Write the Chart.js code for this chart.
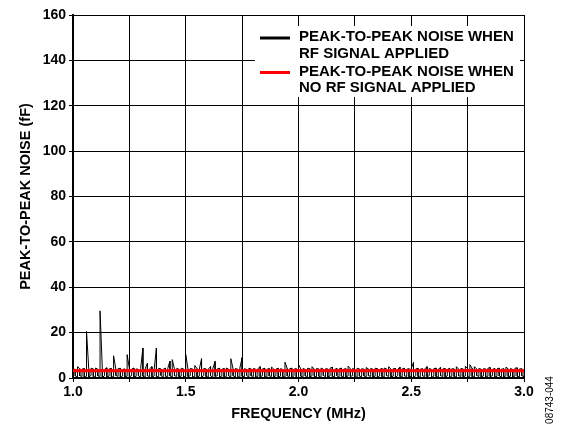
<!DOCTYPE html>
<html>
<head>
    <title>Peak-to-Peak Noise vs Frequency</title>
    <style>
        body {
            margin: 0;
            padding: 0;
            background-color: #fff;
        }

        #chart-container {
            width: 576px;
            height: 428px;
        }
    </style>
</head>
<body>
    <div id="chart-container">
        <canvas id="noise-chart"></canvas>
    </div>

    <script src="https://cdn.jsdelivr.net/npm/chart.js"></script>
    <script>
        // sweep frequencies (MHz) for the RF-applied trace
        const freqMHz = [
            1.00, 1.01, 1.02, 1.03, 1.04, 1.05, 1.06, 1.07, 1.08, 1.09,
            1.10, 1.11, 1.12, 1.13, 1.14, 1.15, 1.16, 1.17, 1.18, 1.19,
            1.20, 1.21, 1.22, 1.23, 1.24, 1.25, 1.26, 1.27, 1.28, 1.29,
            1.30, 1.31, 1.32, 1.33, 1.34, 1.35, 1.36, 1.37, 1.38, 1.39,
            1.40, 1.41, 1.42, 1.43, 1.44, 1.45, 1.46, 1.47, 1.48, 1.49,
            1.50, 1.51, 1.52, 1.53, 1.54, 1.55, 1.56, 1.57, 1.58, 1.59,
            1.60, 1.61, 1.62, 1.63, 1.64, 1.65, 1.66, 1.67, 1.68, 1.69,
            1.70, 1.71, 1.72, 1.73, 1.74, 1.75, 1.76, 1.77, 1.78, 1.79,
            1.80, 1.81, 1.82, 1.83, 1.84, 1.85, 1.86, 1.87, 1.88, 1.89,
            1.90, 1.91, 1.92, 1.93, 1.94, 1.95, 1.96, 1.97, 1.98, 1.99,
            2.00, 2.01, 2.02, 2.03, 2.04, 2.05, 2.06, 2.07, 2.08, 2.09,
            2.10, 2.11, 2.12, 2.13, 2.14, 2.15, 2.16, 2.17, 2.18, 2.19,
            2.20, 2.21, 2.22, 2.23, 2.24, 2.25, 2.26, 2.27, 2.28, 2.29,
            2.30, 2.31, 2.32, 2.33, 2.34, 2.35, 2.36, 2.37, 2.38, 2.39,
            2.40, 2.41, 2.42, 2.43, 2.44, 2.45, 2.46, 2.47, 2.48, 2.49,
            2.50, 2.51, 2.52, 2.53, 2.54, 2.55, 2.56, 2.57, 2.58, 2.59,
            2.60, 2.61, 2.62, 2.63, 2.64, 2.65, 2.66, 2.67, 2.68, 2.69,
            2.70, 2.71, 2.72, 2.73, 2.74, 2.75, 2.76, 2.77, 2.78, 2.79,
            2.80, 2.81, 2.82, 2.83, 2.84, 2.85, 2.86, 2.87, 2.88, 2.89,
            2.90, 2.91, 2.92, 2.93, 2.94, 2.95, 2.96, 2.97, 2.98, 2.99,
            3.00
        ];

        // RF applied: highest reading (fF) in each frequency bin
        const rfMax = [
            4.0, 3.8, 5.0, 4.1, 3.9, 4.2, 20.5, 3.8, 4.3, 4.0,
            4.4, 3.9, 29.6, 4.1, 3.8, 4.5, 4.0, 4.2, 9.8, 3.9,
            4.1, 4.3, 3.8, 4.0, 10.3, 4.2, 3.9, 4.4, 4.0, 3.8,
            4.2, 13.2, 4.0, 6.5, 4.1, 5.0, 3.9, 13.2, 4.3, 4.0,
            3.8, 4.4, 4.1, 7.5, 8.1, 4.0, 4.2, 3.9, 4.3, 4.0,
            10.3, 3.9, 4.2, 4.0, 5.5, 4.1, 3.8, 8.5, 4.2, 4.0,
            3.9, 5.0, 4.1, 7.3, 4.0, 4.3, 3.8, 4.2, 4.4, 3.9,
            8.5, 4.0, 4.2, 3.9, 4.4, 9.0, 4.1, 3.8, 4.3, 4.0,
            4.2, 3.9, 4.1, 5.0, 4.0, 4.3, 3.8, 4.2, 4.8, 4.0,
            3.9, 4.3, 4.1, 3.8, 7.0, 4.2, 4.0, 4.4, 3.9, 4.1,
            6.0, 4.0, 4.2, 3.8, 4.3, 4.1, 5.0, 3.9, 4.2, 4.0,
            4.4, 3.9, 4.1, 4.0, 4.3, 4.8, 3.8, 4.2, 4.0, 4.4,
            3.9, 4.1, 5.2, 4.0, 4.2, 3.8, 4.3, 4.0, 4.1, 3.9,
            4.6, 4.0, 4.2, 3.9, 4.3, 4.1, 3.8, 4.2, 4.4, 4.0,
            5.0, 3.9, 4.1, 4.2, 3.8, 4.8, 4.0, 4.3, 3.9, 4.1,
            4.2, 6.9, 4.0, 4.3, 3.9, 4.1, 4.0, 5.0, 4.2, 3.8,
            4.1, 4.4, 3.9, 4.6, 4.0, 4.2, 3.8, 4.3, 4.1, 4.0,
            5.0, 3.9, 4.2, 4.0, 5.2, 4.1, 5.9, 4.3, 5.0, 4.0,
            4.2, 3.9, 4.1, 4.0, 4.3, 4.6, 3.8, 4.2, 4.0, 4.4,
            3.9, 4.1, 4.8, 4.0, 4.2, 3.8, 4.3, 4.5, 4.0, 4.1,
            3.9
        ];

        // RF applied: lowest reading (fF) in each frequency bin
        const rfMin = [
            0.6, 0.9, 0.4, 1.0, 0.7, 0.3, 0.8, 0.5, 1.1, 0.6,
            0.4, 0.9, 0.7, 0.3, 1.0, 0.5, 0.8, 0.6, 0.4, 1.1,
            0.7, 0.3, 0.9, 0.5, 0.8, 0.6, 1.0, 0.4, 0.7, 0.9,
            0.5, 0.8, 0.3, 1.0, 0.6, 0.4, 0.9, 0.7, 0.5, 1.1,
            0.3, 0.8, 0.6, 0.9, 0.4, 1.0, 0.7, 0.5, 0.8, 0.3,
            0.9, 0.6, 1.0, 0.4, 0.7, 0.5, 0.8, 0.3, 1.1, 0.6,
            0.4, 0.9, 0.2, 0.7, 1.0, 0.5, 0.8, 0.3, 0.6, 0.9,
            0.5, 1.0, 0.4, 0.7, 0.3, 0.8, 0.6, 1.1, 0.4, 0.9,
            0.7, 0.3, 0.8, 0.5, 1.0, 0.6, 0.4, 0.9, 0.7, 0.5,
            1.0, 0.3, 0.8, 0.6, 0.4, 0.9, 0.7, 0.2, 1.0, -0.8,
            0.5, 0.8, 0.3, 0.9, 0.6, 0.4, 1.0, 0.7, 0.5, 0.8,
            0.3, 1.1, 0.6, 0.4, 0.9, 0.7, 0.5, 1.0, 0.3, 0.8,
            0.6, 0.4, 0.9, 0.7, 1.0, 0.5, 0.3, 0.8, 0.6, 0.9,
            0.4, 1.0, 0.7, 0.5, 0.8, 0.3, 0.9, 0.6, 0.4, 1.1,
            0.7, 0.5, 0.8, 0.3, 1.0, 0.6, 0.4, 0.9, 0.7, 0.5,
            0.8, 0.3, 1.0, 0.6, 0.4, 0.9, 0.7, 0.5, 1.1, 0.3,
            0.8, 0.6, 0.4, 1.0, 0.7, 0.5, 0.9, 0.3, 0.8, 0.6,
            0.4, 1.0, 0.7, 0.5, 0.9, 0.3, 0.8, 0.6, 0.4, 1.1,
            0.7, 0.5, 0.9, 0.3, 0.8, 0.6, 1.0, 0.4, 0.7, 0.9,
            0.5, 0.3, 1.0, 0.6, 0.8, 0.4, 0.9, 0.7, 0.5, 1.0,
            0.6
        ];

        // coarser sweep for the no-RF trace
        const freqNoRF = [
            1.00, 1.05, 1.10, 1.15, 1.20, 1.25, 1.30, 1.35, 1.40, 1.45,
            1.50, 1.55, 1.60, 1.65, 1.70, 1.75, 1.80, 1.85, 1.90, 1.95,
            2.00, 2.05, 2.10, 2.15, 2.20, 2.25, 2.30, 2.35, 2.40, 2.45,
            2.50, 2.55, 2.60, 2.65, 2.70, 2.75, 2.80, 2.85, 2.90, 2.95,
            3.00
        ];

        // peak-to-peak noise (fF) with no RF signal applied
        const noiseNoRF = [
            3.2, 3.3, 3.2, 3.3, 3.2, 3.3, 3.2, 3.3, 3.2, 3.3,
            3.2, 3.3, 3.2, 3.2, 3.3, 3.2, 3.3, 3.2, 3.3, 3.2,
            3.3, 3.2, 3.3, 3.2, 3.3, 3.2, 3.2, 3.3, 3.2, 3.3,
            3.2, 3.3, 3.2, 3.3, 3.2, 3.3, 3.2, 3.3, 3.2, 3.3,
            3.2
        ];

        const legendRF = ['PEAK-TO-PEAK NOISE WHEN', 'RF SIGNAL APPLIED'];
        const legendNoRF = ['PEAK-TO-PEAK NOISE WHEN', 'NO RF SIGNAL APPLIED'];

        const xTicks = [1.0, 1.5, 2.0, 2.5, 3.0];
        const yTicks = [0, 20, 40, 60, 80, 100, 120, 140, 160];
        const figureId = '08743-044';

        const tickFont = { family: 'Arial, "Liberation Sans", sans-serif', size: 14, weight: 'bold' };
        const titleFont = { family: 'Arial, "Liberation Sans", sans-serif', size: 14.5, weight: 'bold' };

        // each bin is drawn as a vertical stroke from its low to its high reading
        const rfPoints = freqMHz.flatMap((f, i) => i % 2 === 0
            ? [{ x: f, y: rfMin[i] }, { x: f, y: rfMax[i] }]
            : [{ x: f, y: rfMax[i] }, { x: f, y: rfMin[i] }]);

        // legend box drawn inside the plot, top right, over the grid
        const boxLegend = {
            id: 'boxLegend',
            afterDatasetsDraw(chart) {
                const ctx = chart.ctx;
                const area = chart.chartArea;
                const left = area.right - 269;
                const top = area.top + 11;
                ctx.save();
                ctx.fillStyle = '#fff';
                ctx.fillRect(left, top, 265, 71);
                ctx.font = 'bold 15px Arial, "Liberation Sans", sans-serif';
                ctx.textBaseline = 'middle';
                ctx.fillStyle = '#000';
                chart.data.datasets.forEach((ds, i) => {
                    const rowY = top + 11 + i * 34.5;
                    ctx.strokeStyle = ds.borderColor;
                    ctx.lineWidth = 3;
                    ctx.beginPath();
                    ctx.moveTo(left + 5, rowY + 1);
                    ctx.lineTo(left + 35, rowY + 1);
                    ctx.stroke();
                    ds.legendLines.forEach((line, j) => {
                        ctx.fillText(line, left + 44, rowY + j * 16.5);
                    });
                });
                ctx.restore();
            },
            afterDraw(chart) {
                const ctx = chart.ctx;
                ctx.save();
                ctx.translate(550, 400);
                ctx.rotate(-Math.PI / 2);
                ctx.font = '10px Arial, "Liberation Sans", sans-serif';
                ctx.fillStyle = '#000';
                ctx.textAlign = 'center';
                ctx.textBaseline = 'middle';
                ctx.fillText(figureId, 0, 0);
                ctx.restore();
            }
        };

        const ctx = document.getElementById('noise-chart').getContext('2d');
        const chart = new Chart(ctx, {
            type: 'line',
            data: {
                datasets: [{
                    label: legendRF.join(' '),
                    legendLines: legendRF,
                    data: rfPoints,
                    borderColor: '#000000',
                    borderWidth: 1,
                    pointRadius: 0,
                    tension: 0,
                    order: 2
                }, {
                    label: legendNoRF.join(' '),
                    legendLines: legendNoRF,
                    data: freqNoRF.map((f, i) => ({ x: f, y: noiseNoRF[i] })),
                    borderColor: '#ff0000',
                    borderWidth: 3,
                    pointRadius: 0,
                    tension: 0,
                    order: 1
                }]
            },
            options: {
                responsive: true,
                maintainAspectRatio: false,
                animation: false,
                events: [],
                layout: {
                    padding: { left: 0, top: 15, right: 52, bottom: 0 }
                },
                plugins: {
                    legend: { display: false },
                    tooltip: { enabled: false }
                },
                scales: {
                    x: {
                        type: 'linear',
                        min: 1,
                        max: 3,
                        afterFit: scale => { scale.height = 50; },
                        ticks: {
                            stepSize: 0.25,
                            autoSkip: false,
                            maxRotation: 0,
                            padding: 2,
                            color: '#000',
                            font: tickFont,
                            callback: value => {
                                const hit = xTicks.find(t => Math.abs(t - value) < 1e-6);
                                return hit === undefined ? '' : hit.toFixed(1);
                            }
                        },
                        grid: { color: '#000', lineWidth: 1, tickLength: 4 },
                        border: { color: '#000', width: 2 },
                        title: {
                            display: true,
                            text: 'FREQUENCY (MHz)',
                            color: '#000',
                            font: titleFont,
                            padding: { top: 0, bottom: 5 }
                        }
                    },
                    y: {
                        min: yTicks[0],
                        max: yTicks[yTicks.length - 1],
                        afterFit: scale => { scale.width = 73; },
                        ticks: {
                            stepSize: 20,
                            padding: 3,
                            color: '#000',
                            font: tickFont
                        },
                        grid: { color: '#000', lineWidth: 1, tickLength: 4 },
                        border: { color: '#000', width: 2 },
                        title: {
                            display: true,
                            text: 'PEAK-TO-PEAK NOISE (fF)',
                            color: '#000',
                            font: titleFont,
                            padding: { top: 17, bottom: 0 }
                        }
                    }
                }
            },
            plugins: [boxLegend]
        });
    </script>
</body>
</html>
